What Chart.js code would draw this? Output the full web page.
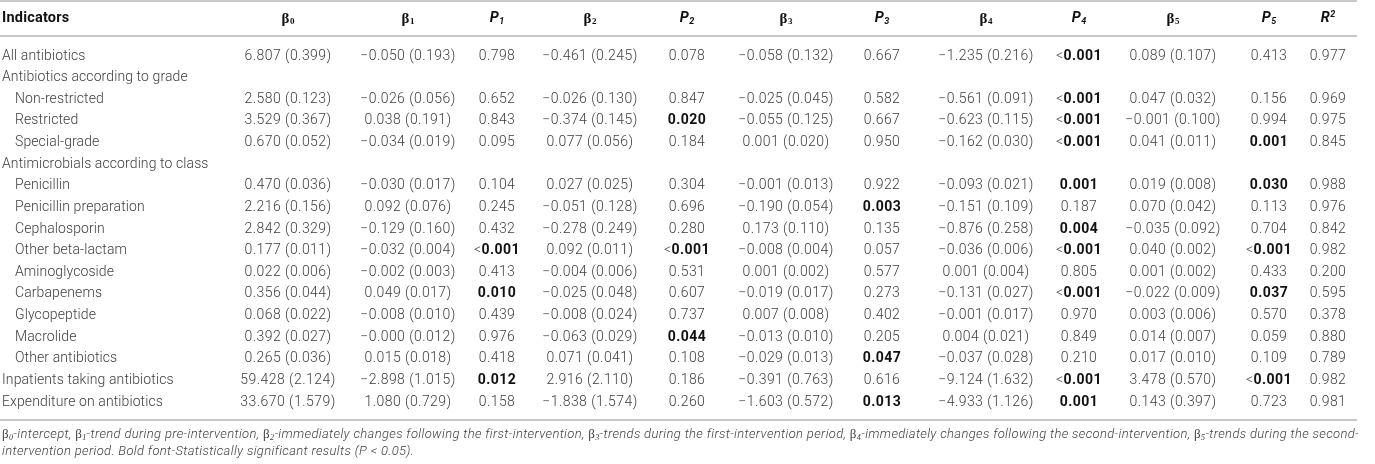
<!DOCTYPE html>
<html>
<head>
<meta charset="utf-8">
<script src="https://cdn.jsdelivr.net/npm/chart.js@4"></script>
<style>
  html, body { margin: 0; padding: 0; background: #fff; }
  #table-chart { display: block; }
</style>
</head>
<body>
<canvas id="table-chart" width="1375" height="464"></canvas>
<script>
// rows of the table
const indicators = [
    "All antibiotics",
    "Antibiotics according to grade",
    "Non-restricted",
    "Restricted",
    "Special-grade",
    "Antimicrobials according to class",
    "Penicillin",
    "Penicillin preparation",
    "Cephalosporin",
    "Other beta-lactam",
    "Aminoglycoside",
    "Carbapenems",
    "Glycopeptide",
    "Macrolide",
    "Other antibiotics",
    "Inpatients taking antibiotics",
    "Expenditure on antibiotics"
];
const indentLevel = [0, 0, 1, 1, 1, 0, 1, 1, 1, 1, 1, 1, 1, 1, 1, 0, 0];

// coefficient (SE) columns
const beta0 = ["6.807 (0.399)", "", "2.580 (0.123)", "3.529 (0.367)", "0.670 (0.052)", "", "0.470 (0.036)", "2.216 (0.156)", "2.842 (0.329)", "0.177 (0.011)", "0.022 (0.006)", "0.356 (0.044)", "0.068 (0.022)", "0.392 (0.027)", "0.265 (0.036)", "59.428 (2.124)", "33.670 (1.579)"];
const beta1 = ["−0.050 (0.193)", "", "−0.026 (0.056)", "0.038 (0.191)", "−0.034 (0.019)", "", "−0.030 (0.017)", "0.092 (0.076)", "−0.129 (0.160)", "−0.032 (0.004)", "−0.002 (0.003)", "0.049 (0.017)", "−0.008 (0.010)", "−0.000 (0.012)", "0.015 (0.018)", "−2.898 (1.015)", "1.080 (0.729)"];
const beta2 = ["−0.461 (0.245)", "", "−0.026 (0.130)", "−0.374 (0.145)", "0.077 (0.056)", "", "0.027 (0.025)", "−0.051 (0.128)", "−0.278 (0.249)", "0.092 (0.011)", "−0.004 (0.006)", "−0.025 (0.048)", "−0.008 (0.024)", "−0.063 (0.029)", "0.071 (0.041)", "2.916 (2.110)", "−1.838 (1.574)"];
const beta3 = ["−0.058 (0.132)", "", "−0.025 (0.045)", "−0.055 (0.125)", "0.001 (0.020)", "", "−0.001 (0.013)", "−0.190 (0.054)", "0.173 (0.110)", "−0.008 (0.004)", "0.001 (0.002)", "−0.019 (0.017)", "0.007 (0.008)", "−0.013 (0.010)", "−0.029 (0.013)", "−0.391 (0.763)", "−1.603 (0.572)"];
const beta4 = ["−1.235 (0.216)", "", "−0.561 (0.091)", "−0.623 (0.115)", "−0.162 (0.030)", "", "−0.093 (0.021)", "−0.151 (0.109)", "−0.876 (0.258)", "−0.036 (0.006)", "0.001 (0.004)", "−0.131 (0.027)", "−0.001 (0.017)", "0.004 (0.021)", "−0.037 (0.028)", "−9.124 (1.632)", "−4.933 (1.126)"];
const beta5 = ["0.089 (0.107)", "", "0.047 (0.032)", "−0.001 (0.100)", "0.041 (0.011)", "", "0.019 (0.008)", "0.070 (0.042)", "−0.035 (0.092)", "0.040 (0.002)", "0.001 (0.002)", "−0.022 (0.009)", "0.003 (0.006)", "0.014 (0.007)", "0.017 (0.010)", "3.478 (0.570)", "0.143 (0.397)"];

// p-values and R squared
const p1 = ["0.798", "", "0.652", "0.843", "0.095", "", "0.104", "0.245", "0.432", "<0.001", "0.413", "0.010", "0.439", "0.976", "0.418", "0.012", "0.158"];
const p2 = ["0.078", "", "0.847", "0.020", "0.184", "", "0.304", "0.696", "0.280", "<0.001", "0.531", "0.607", "0.737", "0.044", "0.108", "0.186", "0.260"];
const p3 = ["0.667", "", "0.582", "0.667", "0.950", "", "0.922", "0.003", "0.135", "0.057", "0.577", "0.273", "0.402", "0.205", "0.047", "0.616", "0.013"];
const p4 = ["<0.001", "", "<0.001", "<0.001", "<0.001", "", "0.001", "0.187", "0.004", "<0.001", "0.805", "<0.001", "0.970", "0.849", "0.210", "<0.001", "0.001"];
const p5 = ["0.413", "", "0.156", "0.994", "0.001", "", "0.030", "0.113", "0.704", "<0.001", "0.433", "0.037", "0.570", "0.059", "0.109", "<0.001", "0.723"];
const r2 = ["0.977", "", "0.969", "0.975", "0.845", "", "0.988", "0.976", "0.842", "0.982", "0.200", "0.595", "0.378", "0.880", "0.789", "0.982", "0.981"];

// header labels: base glyph + index
const headerBase = ["β", "β", "P", "β", "P", "β", "P", "β", "P", "β", "P", "R"];
const headerIndex = ["0", "1", "1", "2", "2", "3", "3", "4", "4", "5", "5", "2"];
const columns = [beta0, beta1, p1, beta2, p2, beta3, p3, beta4, p4, beta5, p5, r2];
const isPColumn = [false, false, true, false, true, false, true, false, true, false, true, false];
const significance = 0.05;

// layout (pixel-space anchors on the x scale, row units on the y scale)
const colCenter = [288, 408, 497, 590, 687, 786, 882, 986, 1079, 1173, 1269, 1328];
const labelX = [2, 15];
const headerRow = -1.72;
const ruleRows = [-2.55, -0.93, 16.82];
const noteRows = [17.52, 18.30];

const footLine1 = [
    ["b", "0"], "-intercept, ", ["b", "1"], "-trend during pre-intervention, ",
    ["b", "2"], "-immediately changes following the first-intervention, ",
    ["b", "3"], "-trends during the first-intervention period, ",
    ["b", "4"], "-immediately changes following the second-intervention, ",
    ["b", "5"], "-trends during the second-"
];
const footLine2 = "intervention period. Bold font-Statistically significant results (P < 0.05).";

const SANS = "Roboto, 'Liberation Sans', Arial, sans-serif";
const SERIF = "'Liberation Serif', 'DejaVu Serif', serif";
const LIGHT = "#404040";
const DARK = "#111111";

function isSignificant(v) {
    if (!v) return false;
    if (v.charAt(0) === "<") return true;
    return parseFloat(v) < significance;
}

const tablePlugin = {
    id: "tablePlugin",
    afterDraw(chart) {
        const ctx = chart.ctx;
        const xs = chart.scales.x;
        const ys = chart.scales.y;
        ctx.save();
        ctx.textBaseline = "middle";

        // rules
        ctx.strokeStyle = "#c9c9c9";
        ctx.lineWidth = 2;
        ruleRows.forEach(r => {
            const y = Math.round(ys.getPixelForValue(r));
            ctx.beginPath();
            ctx.moveTo(xs.getPixelForValue(0), y);
            ctx.lineTo(xs.getPixelForValue(1357), y);
            ctx.stroke();
        });

        // header
        const hy = ys.getPixelForValue(headerRow);
        ctx.fillStyle = DARK;
        ctx.textAlign = "left";
        ctx.letterSpacing = "0.2px";
        ctx.font = "bold 14.5px " + SANS;
        ctx.fillText("Indicators", xs.getPixelForValue(labelX[0]), hy);
        ctx.letterSpacing = "0px";
        headerBase.forEach((b, j) => {
            const cx = xs.getPixelForValue(colCenter[j]);
            let mainFont, subFont, subDy;
            if (b === "β") {
                mainFont = "bold 15px " + SERIF;
                subFont = "bold 9px " + SERIF;
                subDy = 3;
            } else {
                mainFont = "italic bold 14.5px " + SANS;
                subFont = "italic bold 9px " + SANS;
                subDy = b === "R" ? -4 : 3;
            }
            ctx.font = mainFont;
            const w1 = ctx.measureText(b).width;
            ctx.font = subFont;
            const w2 = ctx.measureText(headerIndex[j]).width;
            const x0 = cx - (w1 + w2 + 0.5) / 2;
            ctx.font = mainFont;
            ctx.fillText(b, x0, hy);
            ctx.font = subFont;
            ctx.fillText(headerIndex[j], x0 + w1 + 0.5, hy + subDy);
        });

        // row labels
        ctx.fillStyle = LIGHT;
        ctx.font = "300 14px " + SANS;
        ctx.letterSpacing = "0.1px";
        indicators.forEach((name, i) => {
            ctx.fillText(name, xs.getPixelForValue(labelX[indentLevel[i]]), ys.getPixelForValue(i));
        });

        // cells
        const lightFont = "300 14px " + SANS;
        const boldFont = "bold 14px " + SANS;
        ctx.letterSpacing = "0.45px";
        columns.forEach((col, j) => {
            const cx = xs.getPixelForValue(colCenter[j]);
            col.forEach((v, i) => {
                if (!v) return;
                const y = ys.getPixelForValue(i);
                if (isPColumn[j] && isSignificant(v)) {
                    let pre = "", num = v;
                    if (v.charAt(0) === "<") { pre = "<"; num = v.slice(1); }
                    ctx.font = lightFont;
                    const wp = ctx.measureText(pre).width;
                    ctx.font = boldFont;
                    const wn = ctx.measureText(num).width;
                    const x0 = cx - (wp + wn) / 2;
                    ctx.textAlign = "left";
                    ctx.fillStyle = LIGHT;
                    ctx.font = lightFont;
                    if (pre) ctx.fillText(pre, x0, y);
                    ctx.fillStyle = DARK;
                    ctx.font = boldFont;
                    ctx.fillText(num, x0 + wp, y);
                } else {
                    ctx.textAlign = "center";
                    ctx.fillStyle = LIGHT;
                    ctx.font = lightFont;
                    ctx.fillText(v, cx, y);
                }
            });
        });

        // footnote
        ctx.textAlign = "left";
        ctx.fillStyle = LIGHT;
        ctx.letterSpacing = "0.35px";
        const noteFont = "italic 300 13px " + SANS;
        const betaFont = "13px " + SERIF;
        const betaSub = "italic 8px " + SERIF;
        const pieces = [];
        footLine1.forEach(p => {
            if (Array.isArray(p)) {
                pieces.push({ t: "β", f: betaFont, dy: 0 });
                pieces.push({ t: p[1], f: betaSub, dy: 3 });
            } else {
                p.split(/( )/).forEach(s => {
                    if (s === "") return;
                    pieces.push({ t: s, f: noteFont, dy: 0, space: s === " " });
                });
            }
        });
        let natural = 0, spaces = 0;
        pieces.forEach(p => {
            ctx.font = p.f;
            p.w = ctx.measureText(p.t).width;
            natural += p.w;
            if (p.space) spaces++;
        });
        const left = xs.getPixelForValue(labelX[0]);
        const right = xs.getPixelForValue(1357);
        const extra = spaces ? Math.max(0, (right - left - natural) / spaces) : 0;
        let x = left;
        const fy1 = ys.getPixelForValue(noteRows[0]);
        pieces.forEach(p => {
            ctx.font = p.f;
            ctx.fillText(p.t, x, fy1 + p.dy);
            x += p.w + (p.space ? extra : 0);
        });
        ctx.font = noteFont;
        ctx.fillText(footLine2, left, ys.getPixelForValue(noteRows[1]));
        ctx.restore();
    }
};

// y in row units: row i sits at 56 + 21.625 * i px
const rowPx = 21.625;
const yMin = -56 / rowPx;
const yMax = yMin + 464 / rowPx;

new Chart(document.getElementById("table-chart").getContext("2d"), {
    type: "scatter",
    data: { datasets: [{ data: [], pointRadius: 0 }] },
    options: {
        responsive: false,
        animation: false,
        devicePixelRatio: 1,
        layout: { padding: 0 },
        plugins: { legend: { display: false }, tooltip: { enabled: false } },
        scales: {
            x: { type: "linear", min: 0, max: 1375, display: false },
            y: { type: "linear", min: yMin, max: yMax, reverse: true, display: false }
        }
    },
    plugins: [tablePlugin]
});
</script>
</body>
</html>
